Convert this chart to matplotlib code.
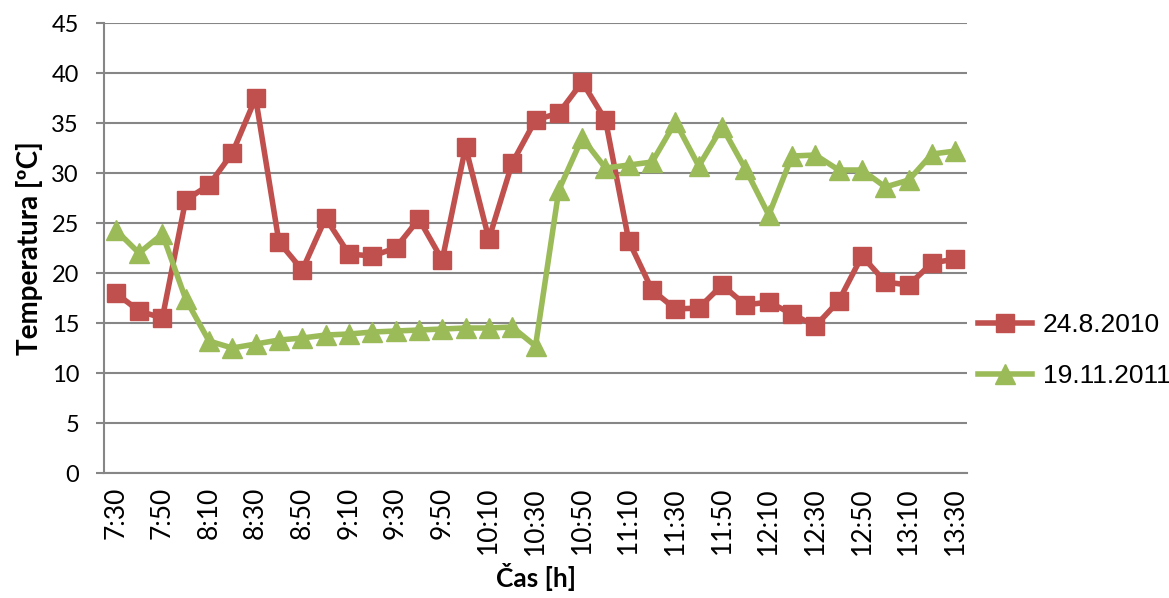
import matplotlib.pyplot as plt

times = []
for h in range(7, 14):
    for m in range(0, 60, 10):
        t = f"{h}:{m:02d}"
        if (h == 7 and m < 30) or (h == 13 and m > 30):
            continue
        times.append(t)

temp_2010 = [18, 16.2, 15.5, 27.3, 28.8, 32, 37.5, 23.1, 20.3, 25.5, 21.9, 21.7,
             22.5, 25.4, 21.3, 32.6, 23.4, 31, 35.3, 36, 39.1, 35.3, 23.2, 18.3,
             16.4, 16.5, 18.8, 16.8, 17.1, 15.9, 14.7, 17.2, 21.7, 19.1, 18.8, 21, 21.4]
temp_2011 = [24.3, 22, 23.9, 17.4, 13.2, 12.5, 12.9, 13.3, 13.5, 13.8, 13.9, 14.1,
             14.2, 14.3, 14.4, 14.5, 14.5, 14.6, 12.7, 28.3, 33.5, 30.5, 30.8, 31.1,
             35.1, 30.7, 34.6, 30.4, 25.8, 31.7, 31.8, 30.3, 30.3, 28.6, 29.3, 31.9, 32.2]

fig = plt.figure(figsize=(11.69, 5.98), dpi=100)
ax = fig.add_axes([0.089, 0.209, 0.7382, 0.7525])

x = list(range(len(times)))
ax.plot(x, temp_2010, c="#C0504D", lw=4, marker="s", ms=13, label="24.8.2010")
ax.plot(x, temp_2011, c="#9BBB59", lw=4, marker="^", ms=14, label="19.11.2011")

ax.set_xlim(-0.5, len(times) - 0.5)
ax.set_ylim(0, 45)
ax.set_yticks(range(0, 50, 5))
ax.set_xticks(x[::2])
ax.set_xticklabels(times[::2], rotation=90, fontsize=19, family="Lato")
for lb in ax.get_yticklabels():
    lb.set_fontsize(17)
    lb.set_family("Lato")
ax.grid(axis="y", color="#868686", lw=1.5)
ax.set_axisbelow(True)
for s in ["top", "right"]:
    ax.spines[s].set_visible(False)
ax.spines["left"].set_color("#868686")
ax.spines["bottom"].set_color("#868686")
ax.spines["left"].set_linewidth(1.5)
ax.spines["bottom"].set_linewidth(1.5)
ax.tick_params(axis="y", color="#868686", length=6, width=1.5, pad=12)
ax.tick_params(axis="x", color="#868686", length=0, pad=10)

ax.set_ylabel("Temperatura [ºC]", fontsize=20, fontweight="bold", family="Lato", labelpad=6)
ax.set_xlabel("Čas [h]", fontsize=19, fontweight="bold", family="Lato", labelpad=6)

ax.legend(loc="center left", bbox_to_anchor=(1.0, 0.272), frameon=False,
          prop={"family": "Liberation Sans", "size": 19}, labelspacing=1.05,
          handlelength=2.05, handletextpad=0.42, borderaxespad=0.0)

fig.savefig("out.png")
